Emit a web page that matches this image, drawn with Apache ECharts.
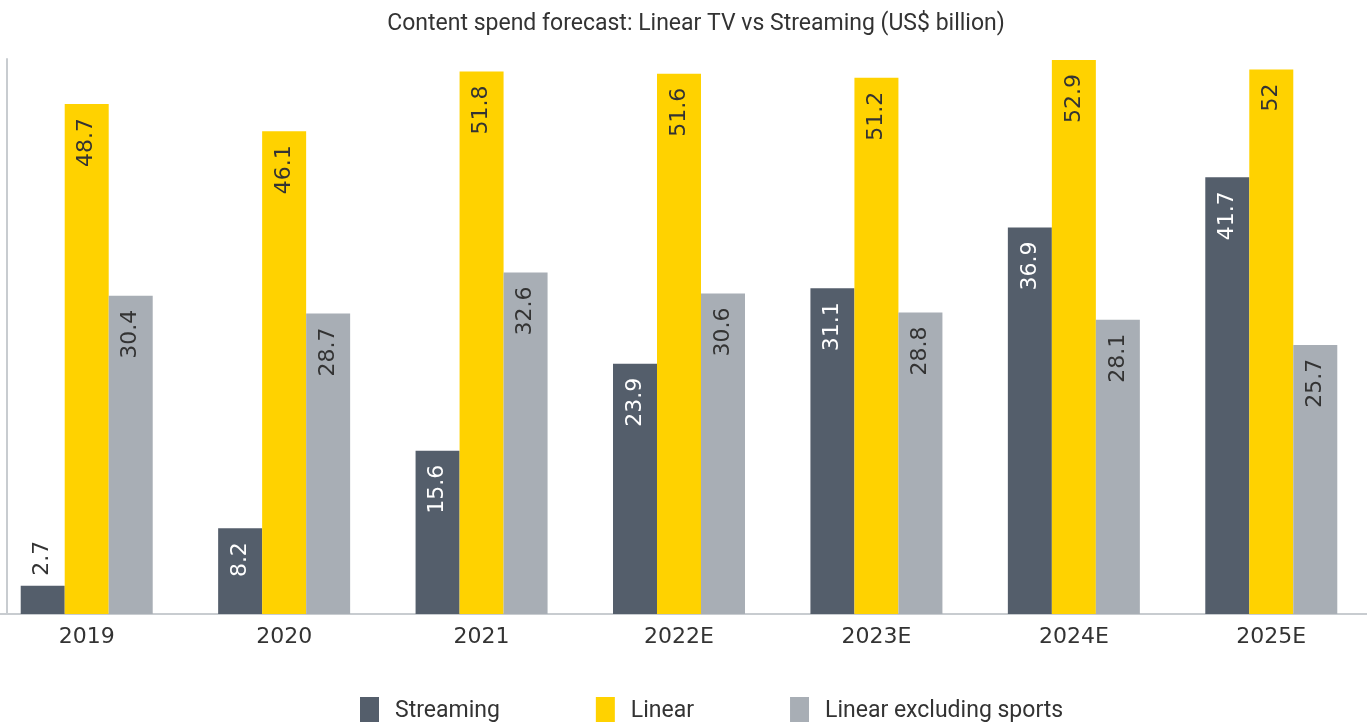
<!DOCTYPE html>
<html><head><meta charset="utf-8">
<script src="https://cdn.jsdelivr.net/npm/echarts@6/dist/echarts.min.js"></script>
<style>html,body{margin:0;padding:0;background:#fff;overflow:hidden}#c{position:absolute;left:-12px;top:0;width:1382px;height:722px}</style>
</head><body><div id="c"></div>
<script>
const categories = ['2019','2020','2021','2022E','2023E','2024E','2025E'];
const streaming = [2.7, 8.2, 15.6, 23.9, 31.1, 36.9, 41.7];
const linear = [48.7, 46.1, 51.8, 51.6, 51.2, 52.9, 52];
const linearExSports = [30.4, 28.7, 32.6, 30.6, 28.8, 28.1, 25.7];

const inLabel = (color) => ({
  show: true, position: 'insideTop', rotate: 90, align: 'right', verticalAlign: 'middle',
  distance: 14, color: color, fontSize: 22, fontFamily: 'DejaVu Sans'
});
const streamData = streaming.map(v => v < 5 ? {value: v, label: {position: 'top', align: 'left', color: '#333', distance: 10}} : v);

const chart = echarts.init(document.getElementById('c'));
chart.setOption({
  animation: false,
  title: { text: 'Content spend forecast: Linear TV vs Streaming (US$ billion)', left: 703, top: 8, textAlign: 'center',
    textStyle: { fontSize: 23, fontWeight: 'normal', color: '#333', fontFamily: 'Roboto' } },
  legend: { bottom: -8, left: 367, icon: 'rect', itemWidth: 19, itemHeight: 28, itemGap: 96,
    textStyle: { fontSize: 23, color: '#333', fontFamily: 'Roboto', padding: [0, 0, 0, 11] } },
  grid: { left: 0, right: 0, top: 59, bottom: 108, containLabel: false },
  xAxis: { type: 'category', data: categories,
    axisLine: { lineStyle: { color: '#c8ccd0', width: 2 } }, axisTick: { show: false },
    axisLabel: { fontSize: 22, color: '#333', fontFamily: 'DejaVu Sans', margin: 12 } },
  yAxis: { type: 'value', min: 0, max: 53, offset: -19,
    axisLine: { show: true, lineStyle: { color: '#c8ccd0', width: 2 } },
    axisLabel: { show: false }, axisTick: { show: false }, splitLine: { show: false } },
  series: [
    { name: 'Streaming', type: 'bar', data: streamData, barWidth: 44, barGap: '0%',
      itemStyle: { color: '#545e6b' }, label: inLabel('#ffffff') },
    { name: 'Linear', type: 'bar', data: linear, barWidth: 44,
      itemStyle: { color: '#ffd200' }, label: inLabel('#333') },
    { name: 'Linear excluding sports', type: 'bar', data: linearExSports, barWidth: 44,
      itemStyle: { color: '#a8aeb5' }, label: inLabel('#333') }
  ]
});
</script></body></html>
